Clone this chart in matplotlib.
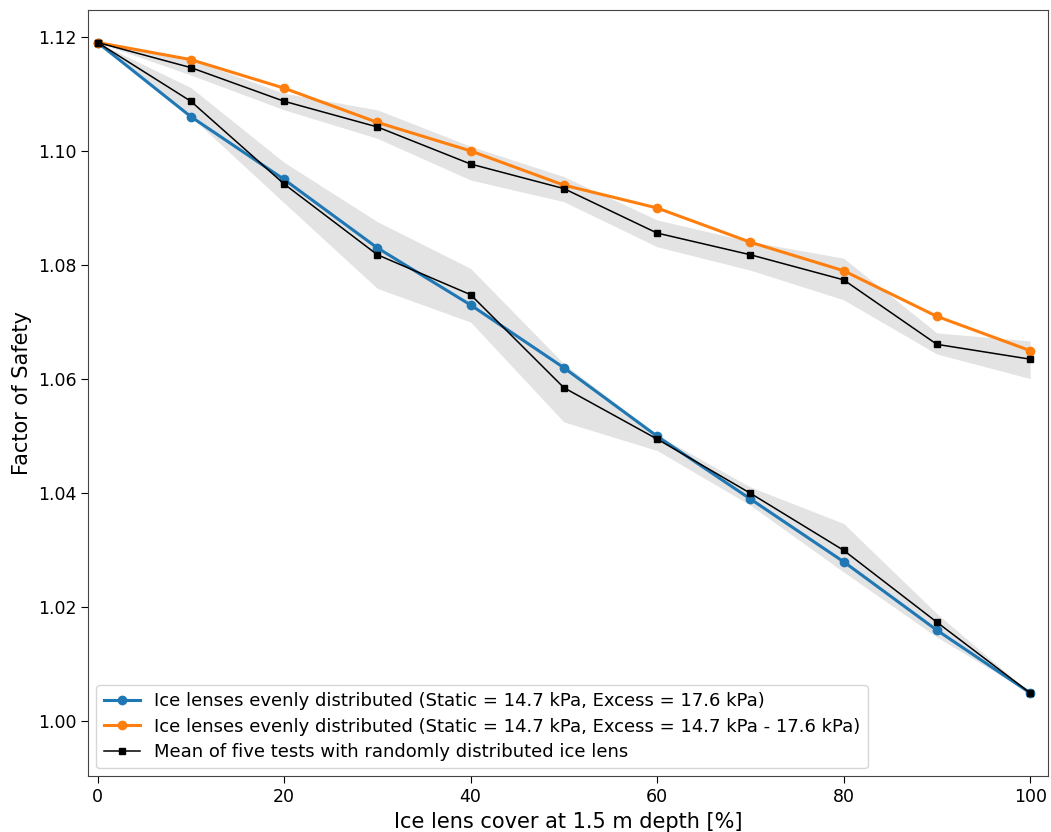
import matplotlib
matplotlib.use("Agg")
import matplotlib.pyplot as plt

# Ice lens cover (%) at 1.5 m depth
cover = [0, 10, 20, 30, 40, 50, 60, 70, 80, 90, 100]

# Evenly distributed ice lenses, excess pressure 17.6 kPa
fs_even_high = [1.119, 1.106, 1.095, 1.083, 1.073, 1.062, 1.050, 1.039, 1.028, 1.016, 1.005]
# Evenly distributed ice lenses, excess pressure 14.7 - 17.6 kPa
fs_even_range = [1.119, 1.116, 1.111, 1.105, 1.100, 1.094, 1.090, 1.084, 1.079, 1.071, 1.065]

# Random distribution, mean and spread of five tests (17.6 kPa)
rand_high_mean = [1.119, 1.1087, 1.0942, 1.0818, 1.0748, 1.0585, 1.0495, 1.0400, 1.0300, 1.0174, 1.005]
rand_high_min = [1.119, 1.1060, 1.0909, 1.0759, 1.0700, 1.0525, 1.0475, 1.0379, 1.0262, 1.0148, 1.005]
rand_high_max = [1.119, 1.1111, 1.0980, 1.0876, 1.0794, 1.0627, 1.0502, 1.0411, 1.0347, 1.0189, 1.005]

# Random distribution, mean and spread of five tests (14.7 - 17.6 kPa)
rand_range_mean = [1.119, 1.1146, 1.1087, 1.1042, 1.0977, 1.0934, 1.0856, 1.0818, 1.0774, 1.0661, 1.0635]
rand_range_min = [1.119, 1.1133, 1.1072, 1.1022, 1.0949, 1.0911, 1.0832, 1.0791, 1.0739, 1.0644, 1.0601]
rand_range_max = [1.119, 1.1160, 1.1101, 1.1072, 1.1008, 1.0955, 1.0879, 1.0841, 1.0812, 1.0681, 1.0667]

labels = [
    "Ice lenses evenly distributed (Static = 14.7 kPa, Excess = 17.6 kPa)",
    "Ice lenses evenly distributed (Static = 14.7 kPa, Excess = 14.7 kPa - 17.6 kPa)",
    "Mean of five tests with randomly distributed ice lens",
]

plt.rcParams["font.family"] = ["DejaVu Sans"]

fig = plt.figure(figsize=(10.51, 8.32), dpi=100)
ax = fig.add_axes([0.084, 0.067, 0.913, 0.921])

band = "#e3e3e3"
ax.fill_between(cover, rand_high_min, rand_high_max, color=band, linewidth=0, zorder=1)
ax.fill_between(cover, rand_range_min, rand_range_max, color=band, linewidth=0, zorder=1)

ax.plot(cover, fs_even_high, color="#1f77b4", marker="o", markersize=6, linewidth=2.2,
        label=labels[0], zorder=3)
ax.plot(cover, fs_even_range, color="#ff7f0e", marker="o", markersize=6, linewidth=2.2,
        label=labels[1], zorder=3)
ax.plot(cover, rand_high_mean, color="black", marker="s", markersize=4, linewidth=1.1,
        label=labels[2], zorder=4)
ax.plot(cover, rand_range_mean, color="black", marker="s", markersize=4, linewidth=1.1,
        zorder=4)

ax.set_xlim(-1, 101.9)
ax.set_ylim(0.9904, 1.1247)
ax.set_xticks([0, 20, 40, 60, 80, 100])
ax.set_yticks([1.00, 1.02, 1.04, 1.06, 1.08, 1.10, 1.12])
ax.set_yticklabels(["1.00", "1.02", "1.04", "1.06", "1.08", "1.10", "1.12"])
ax.tick_params(labelsize=12.5, length=5)

ax.set_xlabel("Ice lens cover at 1.5 m depth [%]", fontsize=15)
ax.set_ylabel("Factor of Safety", fontsize=15)

for s in ax.spines.values():
    s.set_color("#444444")

ax.legend(loc="lower left", fontsize=13, framealpha=0.8, edgecolor="#cccccc",
          labelspacing=0.4, borderaxespad=0.45)

fig.savefig("out.png", dpi=100)
